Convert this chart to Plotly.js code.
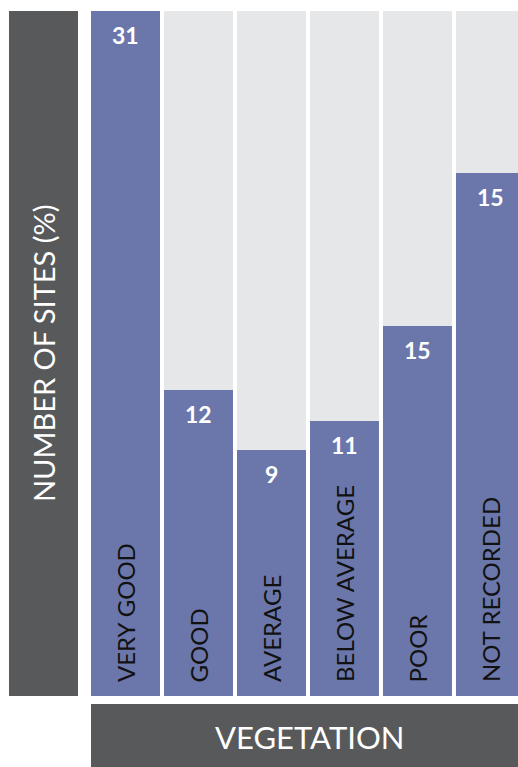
<!DOCTYPE html>
<html>
<head>
<meta charset="utf-8">
<script src="https://cdn.plot.ly/plotly-3.0.1.min.js"></script>
<style>
  html, body { margin: 0; padding: 0; background: #ffffff; overflow: hidden; }
  #chart { width: 518px; height: 767px; }
</style>
</head>
<body>
<div id="chart"></div>
<script>
// Data
var categories = ["VERY GOOD", "GOOD", "AVERAGE", "BELOW AVERAGE", "POOR", "NOT RECORDED"];
var valueLabels = ["31", "12", "9", "11", "15", "15"];
// bar heights as drawn in the picture (scale where the full column = 31)
var barHeights = [31, 13.85, 11.13, 12.45, 16.74, 23.67];
var fullHeight = [31, 31, 31, 31, 31, 31];

var BLUE = "#6b77aa";
var LIGHT = "#e6e7e8";
var DARK = "#58595b";
var FONT = "Lato, 'Open Sans', sans-serif";

var traces = [
  {
    type: "bar", x: categories, y: fullHeight, width: 0.945,
    marker: { color: LIGHT, line: { width: 0 } },
    hoverinfo: "skip", showlegend: false
  },
  {
    type: "bar", x: categories, y: barHeights, width: 0.945,
    marker: { color: BLUE, line: { width: 0 } },
    hoverinfo: "skip", showlegend: false
  }
];

var annotations = [];
categories.forEach(function (c, i) {
  annotations.push({
    x: c, y: barHeights[i], xref: "x", yref: "y",
    text: "<b>" + valueLabels[i] + "</b>", showarrow: false,
    xanchor: "center", yanchor: "top", yshift: -8,
    font: { family: FONT, size: 23, color: "#ffffff" }
  });
  annotations.push({
    x: c, y: 0, xref: "x", yref: "y",
    text: c, showarrow: false, textangle: -90,
    xanchor: "center", yanchor: "bottom", yshift: 12,
    font: { family: FONT, size: 24, color: "#111111" }
  });
});

annotations.push({
  x: -0.1112, y: 0.5, xref: "paper", yref: "paper",
  text: "NUMBER OF SITES (%)", showarrow: false, textangle: -90,
  xanchor: "center", yanchor: "middle",
  font: { family: FONT, size: 29, color: "#ffffff" }
});
annotations.push({
  x: 0.5117, y: -0.0599, xref: "paper", yref: "paper",
  text: "VEGETATION", showarrow: false,
  xanchor: "center", yanchor: "middle",
  font: { family: FONT, size: 31, color: "#ffffff" }
});

var layout = {
  width: 518, height: 767,
  margin: { l: 91, r: 0, t: 11, b: 71, pad: 0 },
  paper_bgcolor: "#ffffff", plot_bgcolor: "#ffffff",
  barmode: "overlay",
  xaxis: {
    type: "category", range: [-0.4726, 5.377],
    showticklabels: false, showgrid: false, zeroline: false, showline: false, ticks: ""
  },
  yaxis: {
    range: [0, 31],
    showticklabels: false, showgrid: false, zeroline: false, showline: false, ticks: ""
  },
  shapes: [
    { type: "rect", xref: "paper", yref: "paper", x0: -0.19204, x1: -0.03044, y0: 0, y1: 1,
      fillcolor: DARK, line: { width: 0 }, layer: "below" },
    { type: "rect", xref: "paper", yref: "paper", x0: 0, x1: 1.05, y0: -0.12, y1: -0.01168,
      fillcolor: DARK, line: { width: 0 }, layer: "below" }
  ],
  annotations: annotations,
  showlegend: false
};

Plotly.newPlot("chart", traces, layout, { displayModeBar: false, staticPlot: true });
</script>
</body>
</html>
